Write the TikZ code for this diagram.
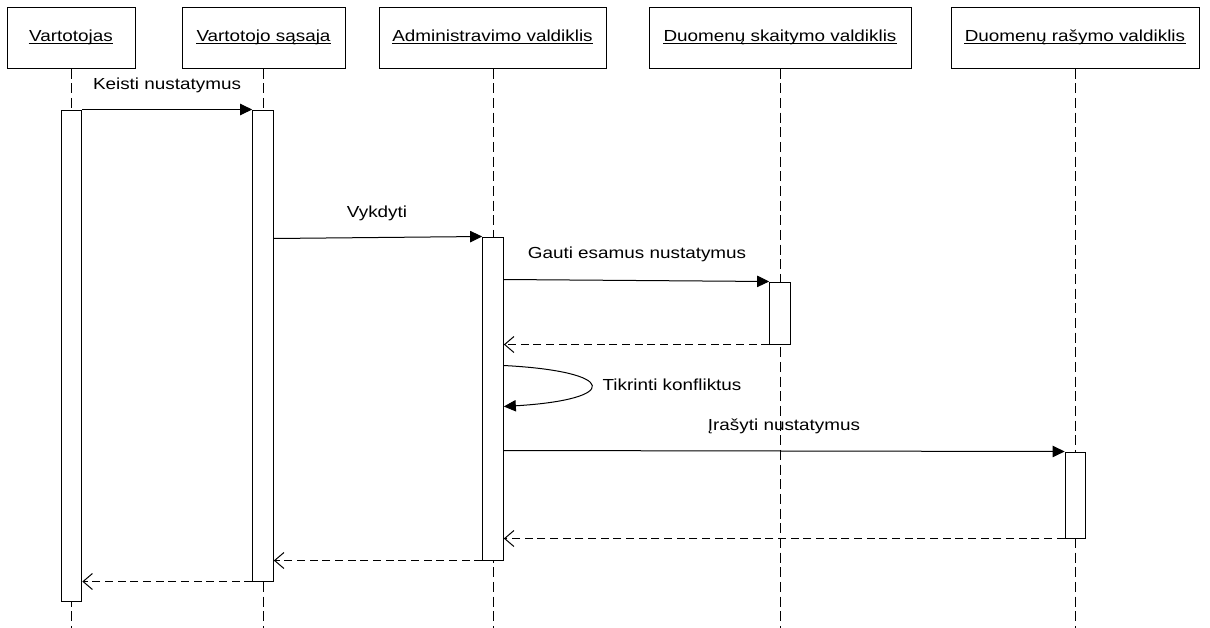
\documentclass[tikz,border=0pt]{standalone}
\usepackage{fontspec}
\setmainfont{Liberation Sans}[FakeStretch=1.18]
\usetikzlibrary{arrows.meta,calc}
\begin{document}
\begin{tikzpicture}[x=0.75pt,y=-0.75pt,
  line width=0.75pt,
  hdr/.style={draw,rectangle,inner sep=0pt,minimum height=45.75pt},
  htxt/.style={inner sep=0pt,anchor=base,font=\fontsize{12pt}{14pt}\selectfont},
  ul/.style={line width=0.75pt},
  act/.style={draw,fill=white,rectangle,inner sep=0pt,minimum width=15.5pt},
  life/.style={dash pattern=on 7.5pt off 3.5pt},
  msg/.style={-{Triangle[length=9pt,width=8.5pt]}},
  ret/.style={dash pattern=on 6pt off 3.5pt,-{Straight Barb[length=7pt,width=12pt]}},
  lbl/.style={inner sep=0pt,font=\fontsize{12pt}{14pt}\selectfont}]
\useasboundingbox (0,0) rectangle (1210,628);
% headers
\node[hdr,minimum width=96pt] (h1) at (71,37.5) {};
\node[hdr,minimum width=122.25pt] (h2) at (263.5,37.5) {};
\node[hdr,minimum width=170.25pt] (h3) at (492.5,37.5) {};
\node[hdr,minimum width=196.5pt] (h4) at (780,37.5) {};
\node[hdr,minimum width=186pt] (h5) at (1075,37.5) {};
\node[htxt] (t1) at (71,41) {Vartotojas};
\node[htxt] (t2) at (263.5,41) {Vartotojo sąsaja};
\node[htxt] (t3) at (492.5,41) {Administravimo valdiklis};
\node[htxt] (t4) at (780,41) {Duomenų skaitymo valdiklis};
\node[htxt] (t5) at (1075,41) {Duomenų rašymo valdiklis};
\foreach \t in {t1,t2,t3,t4,t5}{
  \draw[ul] ([yshift=-2.2pt]\t.base west) -- ([yshift=-2.2pt]\t.base east);
}
% lifelines
\coordinate (e1) at (71,628);
\coordinate (e2) at (263,628);
\coordinate (e3) at (493,628);
\coordinate (e4) at (780,628);
\coordinate (e5) at (1075,628);
\draw[life] (h1.south -| e1) -- (e1);
\draw[life] (h2.south -| e2) -- (e2);
\draw[life] (h3.south -| e3) -- (e3);
\draw[life] (h4.south -| e4) -- (e4);
\draw[life] (h5.south -| e5) -- (e5);
% activations
\node[act,minimum height=368.25pt] (a1) at (71.5,355.5) {};
\node[act,minimum height=353.25pt] (a2) at (263,345.5) {};
\node[act,minimum height=242.25pt] (a3) at (493,398.5) {};
\node[act,minimum height=46.5pt] (a4) at (780,313) {};
\node[act,minimum height=64.5pt] (a5) at (1075.5,495) {};
% messages
\draw[msg] (a1.north east) -- (a2.north west);
\node[lbl] (l1) at (167,85) {Keisti nustatymus};
\coordinate (s2) at ($(a2.north east)+(0,129)$);
\draw[msg] (s2) -- (a3.north west);
\node[lbl] (l2) at (377,213) {Vykdyti};
\coordinate (s3) at ($(a3.north east)+(0,43)$);
\draw[msg] (s3) -- (a4.north west);
\node[lbl] (l3) at (637,254) {Gauti esamus nustatymus};
\draw[ret] (a4.south west) -- (a3.east |- a4.south west);
\coordinate (s4) at ($(a3.north east)+(0,129)$);
\coordinate (s5) at ($(a3.north east)+(0,170)$);
\draw[msg] (s4) .. controls +(115,6) and +(117,-7) .. (s5);
\node[lbl] (l4) at (672,385) {Tikrinti konfliktus};
\coordinate (s6) at ($(a3.north east)+(0,214)$);
\draw[msg] (s6) -- (a5.north west);
\node[lbl] (l5) at (784,426) {Įrašyti nustatymus};
\draw[ret] (a5.south west) -- (a3.east |- a5.south west);
\draw[ret] (a3.south west) -- (a2.east |- a3.south west);
\draw[ret] (a2.south west) -- (a1.east |- a2.south west);
\end{tikzpicture}
\end{document}
